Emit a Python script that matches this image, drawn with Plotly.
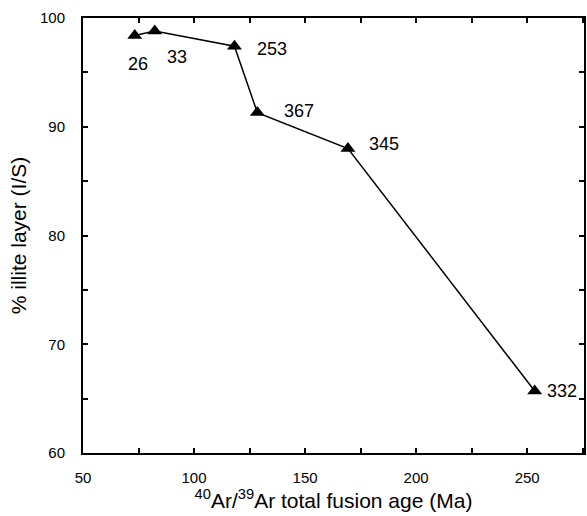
import plotly.graph_objects as go

age_ma = [73.3, 82.3, 118.2, 128.5, 169.3, 253.4]
illite_pct = [98.4, 98.8, 97.4, 91.3, 88.0, 65.7]
sample_labels = ["26", "33", "253", "367", "345", "332"]

x_ticks = [50, 100, 150, 200, 250]
y_ticks = [60, 70, 80, 90, 100]

X_RANGE = [50, 275.6]
Y_RANGE = [60, 100]

# label offsets in pixels (style)
label_shift = [(3, -29), (22, -26), (38, -3), (42, 2), (36, 5), (27, 0)]

FONT = "Liberation Sans, Arial"

fig = go.Figure()
fig.add_trace(go.Scatter(
    x=age_ma, y=illite_pct, mode="lines+markers",
    line=dict(color="black", width=1.5),
    marker=dict(symbol="triangle-up", size=13, color="black"),
    showlegend=False, hoverinfo="skip",
))
# helper (invisible) trace so the inside-tick overlay axes are drawn
fig.add_trace(go.Scatter(
    x=age_ma, y=illite_pct, xaxis="x2", yaxis="y2", mode="markers",
    marker=dict(opacity=0), showlegend=False, hoverinfo="skip",
))

for x, y, t, (dx, dy) in zip(age_ma, illite_pct, sample_labels, label_shift):
    fig.add_annotation(x=x, y=y, text=t, showarrow=False, xshift=dx, yshift=dy,
                       font=dict(family=FONT, size=18, color="black"))

# primary axes: labels + titles (transparent outside ticks act as label padding)
label_axis = dict(
    showgrid=False, zeroline=False, showline=True, linecolor="black", linewidth=2,
    mirror=True, ticks="outside", tickcolor="rgba(0,0,0,0)",
    tickfont=dict(family=FONT, size=15, color="black"),
)
fig.update_layout(
    xaxis=dict(range=X_RANGE, tickvals=x_ticks, ticklen=10,
               title=dict(text="<sup>40</sup>Ar/<sup>39</sup>Ar total fusion age (Ma)",
                          font=dict(family=FONT, size=21, color="black"), standoff=0),
               **label_axis),
    yaxis=dict(range=Y_RANGE, tickvals=y_ticks, ticklen=13,
               title=dict(text="% illite layer (I/S)",
                          font=dict(family=FONT, size=21, color="black"), standoff=8),
               **label_axis),
)

# overlay axes: inside tick marks on all four sides
tick_axis = dict(
    showgrid=False, zeroline=False, showline=True, linecolor="black", linewidth=2,
    mirror="ticks", ticks="inside", tickcolor="black", tickwidth=1.5, ticklen=5,
    showticklabels=False,
)
fig.update_layout(
    xaxis2=dict(range=X_RANGE, tick0=50, dtick=25, overlaying="x", anchor="y2", side="bottom", **tick_axis),
    yaxis2=dict(range=Y_RANGE, tick0=60, dtick=5, overlaying="y", anchor="x2", side="left", **tick_axis),
)

fig.update_layout(
    width=587, height=516,
    margin=dict(l=83, r=1, t=18, b=63),
    plot_bgcolor="white", paper_bgcolor="white",
)

fig.write_html("out.html")
